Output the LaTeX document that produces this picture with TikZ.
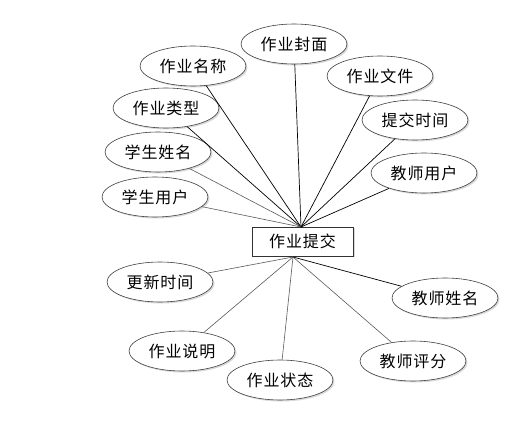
\documentclass[tikz,border=0pt]{standalone}
\usepackage{fontspec}
\newfontfamily\cjk[LetterSpace=6]{Noto Sans CJK SC}
\usetikzlibrary{shapes.geometric,shadows}
\tikzset{
  attr/.style={ellipse, draw=black!75, line width=0.6pt, fill=white,
    minimum width=106pt, minimum height=40pt, inner sep=0pt,
    font=\cjk\fontsize{16}{18}\selectfont,
    drop shadow={shadow xshift=1.5pt, shadow yshift=-1.5pt, fill=black!25, opacity=0.6}},
  ent/.style={rectangle, draw=black!80, line width=0.6pt, fill=white,
    minimum width=101pt, minimum height=29pt, inner sep=0pt,
    font=\cjk\fontsize{16}{18}\selectfont,
    drop shadow={shadow xshift=1.5pt, shadow yshift=-1.5pt, fill=black!25, opacity=0.6}},
  dark/.style={draw=black, line width=0.7pt},
  light/.style={draw=black!65, line width=0.6pt}
}
\begin{document}
\begin{tikzpicture}[x=1pt,y=-1pt]
\useasboundingbox (0,0) rectangle (512,433);
\node[ent] (e) at (302.5,241.5) {作业提交};
\coordinate (t) at (301,227);
\coordinate (b) at (293,257);
\node[attr] (fm) at (294,44) {作业封面};
\node[attr] (mc) at (193,66) {作业名称};
\node[attr] (lx) at (166,108) {作业类型};
\node[attr] (xm) at (158,152) {学生姓名};
\node[attr] (xy) at (155,197) {学生用户};
\node[attr] (wj) at (380,76) {作业文件};
\node[attr] (tj) at (415,120) {提交时间};
\node[attr] (jy) at (424,173) {教师用户};
\node[attr] (gx) at (160,282) {更新时间};
\node[attr] (sm) at (182,351) {作业说明};
\node[attr] (zt) at (280,380) {作业状态};
\node[attr] (jx) at (445,298) {教师姓名};
\node[attr] (pf) at (413,361) {教师评分};
\draw[dark] (t) -- (fm);
\draw[dark] (t) -- (mc);
\draw[dark] (t) -- (lx);
\draw[light] (t) -- (xm);
\draw[light] (t) -- (xy);
\draw[dark] (t) -- (wj);
\draw[dark] (t) -- (tj);
\draw[dark] (t) -- (jy);
\draw[light] (b) -- (gx);
\draw[light] (b) -- (sm);
\draw[light] (b) -- (zt);
\draw[dark] (b) -- (jx);
\draw[light] (b) -- (pf);
\end{tikzpicture}
\end{document}
